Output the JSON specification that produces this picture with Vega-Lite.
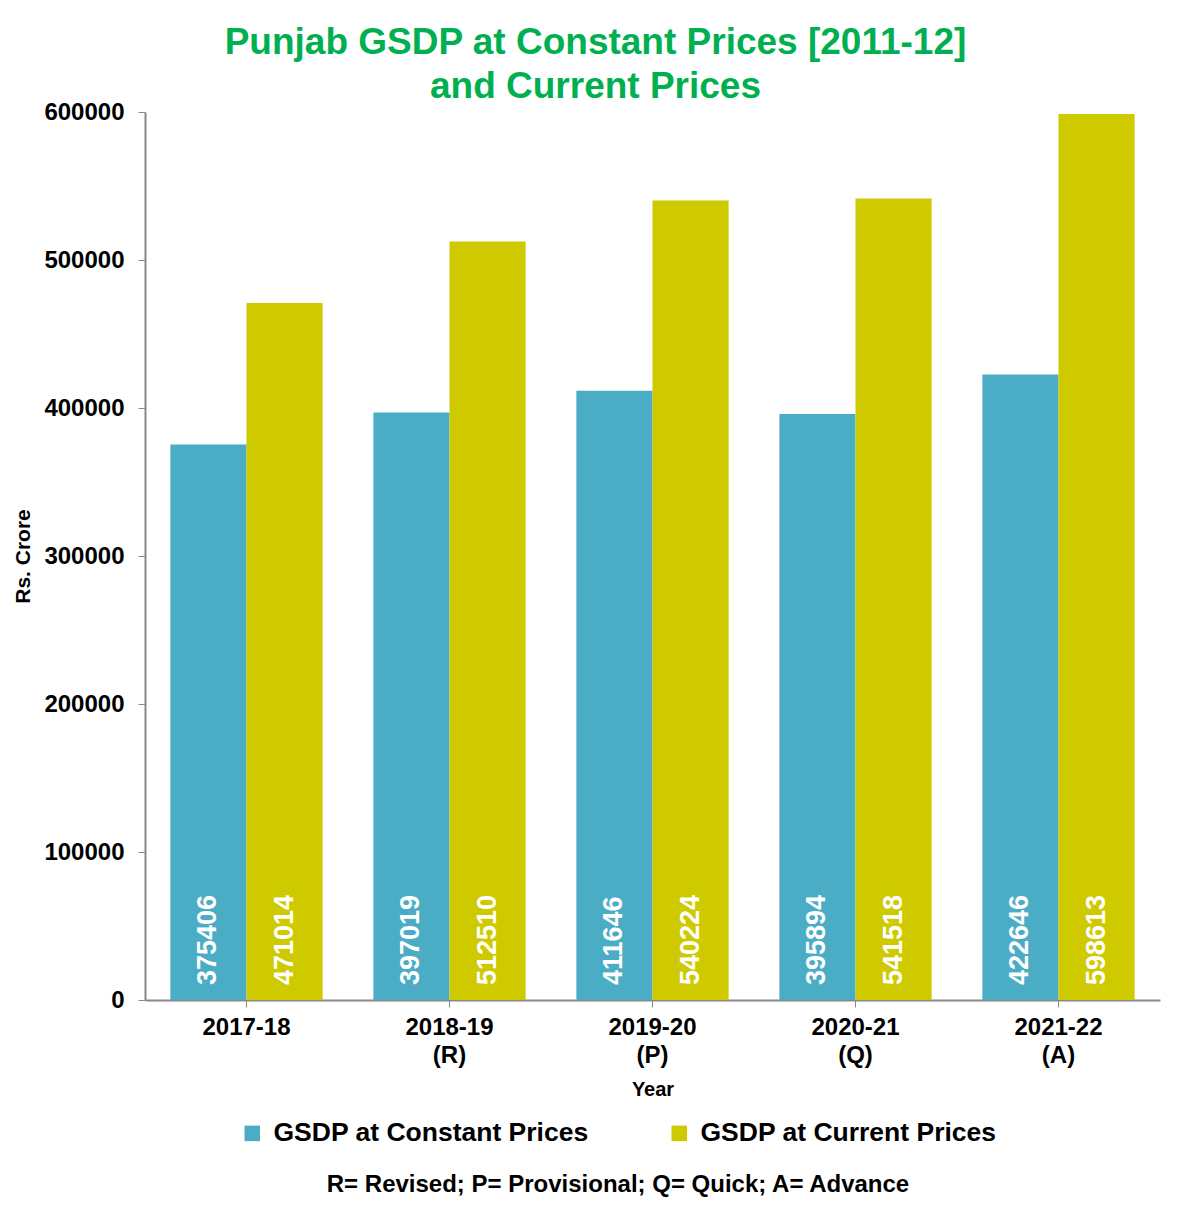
{
  "$schema": "https://vega.github.io/schema/vega-lite/v6.json",
  "width": 1015,
  "height": 888,
  "autosize": {"type": "none"},
  "padding": {"left": 145, "top": 112, "right": 30, "bottom": 218},
  "background": "white",
  "title": {
    "text": ["Punjab GSDP at Constant Prices [2011-12]", "and Current Prices"],
    "font": "Liberation Sans",
    "fontSize": 37,
    "fontWeight": "bold",
    "color": "#00B050",
    "anchor": "middle",
    "frame": "group",
    "dx": -57,
    "lineHeight": 44,
    "offset": -6
  },
  "data": {
    "values": [
      {"year": "2017-18", "series": "GSDP at Constant Prices", "value": 375406},
      {"year": "2017-18", "series": "GSDP at Current Prices", "value": 471014},
      {"year": "2018-19|(R)", "series": "GSDP at Constant Prices", "value": 397019},
      {"year": "2018-19|(R)", "series": "GSDP at Current Prices", "value": 512510},
      {"year": "2019-20|(P)", "series": "GSDP at Constant Prices", "value": 411646},
      {"year": "2019-20|(P)", "series": "GSDP at Current Prices", "value": 540224},
      {"year": "2020-21|(Q)", "series": "GSDP at Constant Prices", "value": 395894},
      {"year": "2020-21|(Q)", "series": "GSDP at Current Prices", "value": 541518},
      {"year": "2021-22|(A)", "series": "GSDP at Constant Prices", "value": 422646},
      {"year": "2021-22|(A)", "series": "GSDP at Current Prices", "value": 598613}
    ]
  },
  "encoding": {
    "x": {
      "field": "year",
      "type": "nominal",
      "sort": null,
      "scale": {"paddingInner": 0.25, "paddingOuter": 0.125},
      "axis": {
        "title": "Year",
        "labelExpr": "split(datum.label, '|')",
        "labelAngle": 0,
        "labelFont": "Liberation Sans",
        "labelFontWeight": "bold",
        "labelFontSize": 24,
        "labelColor": "black",
        "labelLineHeight": 28,
        "labelPadding": 8,
        "tickSize": 7,
        "tickColor": "#888888",
        "domainColor": "#888888",
        "domainWidth": 2,
        "titleFont": "Liberation Sans",
        "titleFontWeight": "bold",
        "titleFontSize": 20,
        "titleColor": "black",
        "titlePadding": 12
      }
    },
    "xOffset": {"field": "series", "type": "nominal", "scale": {"paddingInner": 0, "paddingOuter": 0}},
    "color": {
      "field": "series",
      "type": "nominal",
      "scale": {"range": ["#4BACC6", "#CFC900"]},
      "legend": {
        "title": "R= Revised; P= Provisional; Q= Quick; A= Advance",
        "orient": "none",
        "legendX": 94,
        "legendY": 1008,
        "direction": "horizontal",
        "titleOrient": "bottom",
        "titleAnchor": "middle",
        "titleFont": "Liberation Sans",
        "titleFontSize": 24,
        "titleFontWeight": "bold",
        "titleColor": "black",
        "titlePadding": 26,
        "titleLimit": 0,
        "labelFont": "Liberation Sans",
        "labelFontSize": 26.5,
        "labelFontWeight": "bold",
        "labelColor": "black",
        "labelLimit": 0,
        "labelOffset": 8,
        "symbolType": "square",
        "symbolSize": 240,
        "symbolStrokeWidth": 0,
        "columnPadding": 77
      }
    }
  },
  "layer": [
    {
      "mark": {"type": "bar"},
      "encoding": {
        "y": {
          "field": "value",
          "type": "quantitative",
          "scale": {"domain": [0, 600000]},
          "axis": {
            "title": "Rs. Crore",
            "values": [0, 100000, 200000, 300000, 400000, 500000, 600000],
            "format": "d",
            "grid": false,
            "labelFont": "Liberation Sans",
            "labelFontWeight": "bold",
            "labelFontSize": 24,
            "labelColor": "black",
            "labelPadding": 14,
            "tickSize": 7,
            "tickColor": "#888888",
            "domainColor": "#888888",
            "domainWidth": 2,
            "titleFont": "Liberation Sans",
            "titleFontWeight": "bold",
            "titleFontSize": 21,
            "titleColor": "black",
            "titlePadding": 10
          }
        }
      }
    },
    {
      "mark": {
        "type": "text",
        "angle": 270,
        "align": "left",
        "baseline": "middle",
        "dx": 15,
        "color": "white",
        "font": "Liberation Sans",
        "fontSize": 27,
        "fontWeight": "bold"
      },
      "encoding": {
        "y": {"datum": 0, "type": "quantitative"},
        "text": {"field": "value", "type": "quantitative", "format": "d"},
        "color": {"value": "white"}
      }
    }
  ],
  "config": {
    "view": {"stroke": null}
  }
}
